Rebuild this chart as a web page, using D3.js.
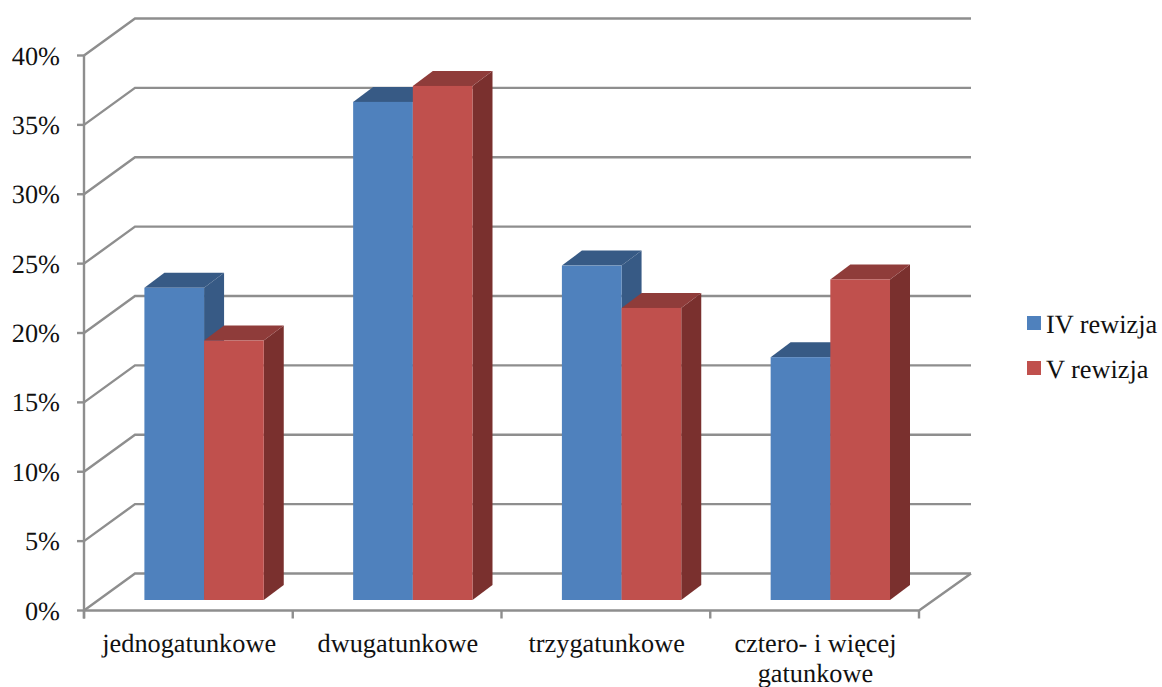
<!DOCTYPE html>
<html>
<head>
<meta charset="utf-8">
<style>
html,body{margin:0;padding:0;background:#fff}
svg{display:block}
text{font-family:"Liberation Serif","Times New Roman",serif;fill:#111;text-rendering:geometricPrecision}
</style>
<script src="https://cdn.jsdelivr.net/npm/d3@7/dist/d3.min.js"></script>
</head>
<body>
<svg id="chart" width="1162" height="687"></svg>
<script>
const categories = [["jednogatunkowe"], ["dwugatunkowe"], ["trzygatunkowe"], ["cztero- i więcej", "gatunkowe"]];
const seriesNames = ["IV rewizja", "V rewizja"];
const seriesIV = [22.5, 35.9, 24.1, 17.5];
const seriesV = [18.7, 37.05, 21.05, 23.1];
const yTicks = [0, 5, 10, 15, 20, 25, 30, 35, 40];

const faces = [
  {front: "#4f81bd", top: "#375a85", side: "#375a85"},
  {front: "#c0504d", top: "#8f3c3a", side: "#7a302e"}
];
const gridColor = "#8e8e8e";
const fontSize = 26.3;

const svg = d3.select("#chart");
const depth = {x: 51, y: -37};      // wall depth of the 3D box
const barDepth = {x: 20, y: -15};   // depth of each column
const floorInset = 10.5;            // columns stand this far behind the front edge

const x = d3.scaleBand().domain(d3.range(categories.length)).range([84, 919]);
const y = d3.scaleLinear().domain([0, 40]).range([610.5, 55.5]);
const inner = d3.scaleBand().domain([0, 1]).range([60.4, x.bandwidth() - 29]);

// Back wall and side wall gridlines
const grid = svg.append("g").attr("fill", "none").attr("stroke", gridColor).attr("stroke-width", 2.4);
grid.selectAll("path").data(yTicks).join("path")
  .attr("d", d => {
    const p = d3.path();
    p.moveTo(x.range()[0], y(d));
    p.lineTo(x.range()[0] + depth.x, y(d) + depth.y);
    p.lineTo(x.range()[1] + depth.x + 1, y(d) + depth.y);
    return p.toString();
  });

// Floor front edge and its closing diagonal
const floor = d3.path();
floor.moveTo(x.range()[0], y(0));
floor.lineTo(x.range()[1], y(0));
floor.lineTo(x.range()[1] + depth.x + 1, y(0) + depth.y);
grid.append("path").attr("d", floor.toString());

// Value axis with outward ticks
grid.append("line").attr("x1", 84).attr("x2", 84).attr("y1", y(40)).attr("y2", y(0) + 8);
grid.selectAll("line.ytick").data(yTicks).join("line").attr("class", "ytick")
  .attr("x1", 77).attr("x2", 84).attr("y1", d => y(d)).attr("y2", d => y(d));
grid.selectAll("line.xtick").data(d3.range(categories.length + 1)).join("line").attr("class", "xtick")
  .attr("x1", i => x.range()[0] + i * x.step()).attr("x2", i => x.range()[0] + i * x.step())
  .attr("y1", y(0)).attr("y2", y(0) + 8);

svg.append("g").selectAll("text").data(yTicks).join("text")
  .attr("x", 60).attr("y", d => y(d) + 9).attr("font-size", fontSize).attr("text-anchor", "end")
  .text(d => d + "%");

// Columns: each one is a front, top and side face
const baseY = y(0) - floorInset;
const barY = v => baseY - (y(0) - y(v));
const polygon = pts => pts.map(p => p.join(",")).join(" ");
const series = [seriesIV, seriesV];

categories.forEach((_, c) => {
  series.forEach((vals, s) => {
    const g = svg.append("g");
    const x0 = x(c) + inner(s), x1 = x0 + inner.bandwidth();
    const top = barY(vals[c]);
    const d = barDepth;
    g.append("polygon").attr("fill", faces[s].side)
      .attr("points", polygon([[x1, top], [x1 + d.x, top + d.y], [x1 + d.x, baseY + d.y], [x1, baseY]]));
    g.append("polygon").attr("fill", faces[s].top)
      .attr("points", polygon([[x0, top], [x0 + d.x, top + d.y], [x1 + d.x, top + d.y], [x1, top]]));
    g.append("rect").attr("fill", faces[s].front)
      .attr("x", x0).attr("y", top).attr("width", x1 - x0).attr("height", baseY - top);
  });
});

// Category labels
const labels = svg.append("g").attr("font-size", fontSize).attr("text-anchor", "middle");
categories.forEach((lines, c) => {
  lines.forEach((line, i) => {
    labels.append("text")
      .attr("x", x(c) + x.bandwidth() / 2 + 0.8)
      .attr("y", 652 + i * 29.5)
      .text(line);
  });
});

// Legend
const legend = svg.append("g");
seriesNames.forEach((name, s) => {
  const ly = 316 + s * 45;
  legend.append("rect").attr("x", 1027).attr("y", ly).attr("width", 14).attr("height", 14).attr("fill", faces[s].front);
  legend.append("text").attr("x", 1046).attr("y", ly + 17).attr("font-size", fontSize).text(name);
});
</script>
</body>
</html>
